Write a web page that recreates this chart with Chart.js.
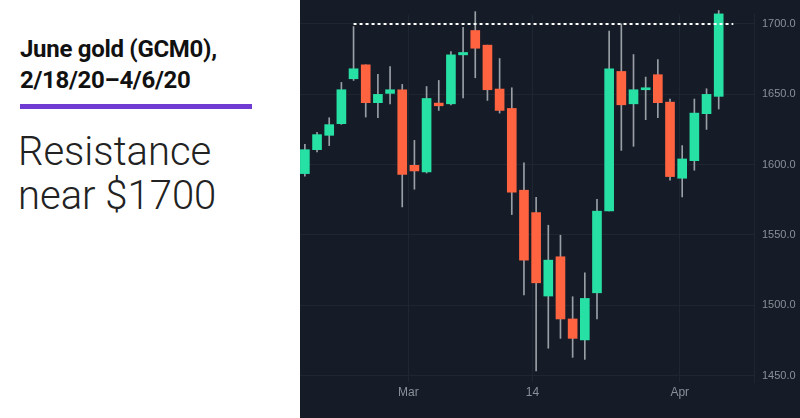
<!DOCTYPE html>
<html>
<head>
<meta charset="utf-8">
<script src="https://cdn.jsdelivr.net/npm/chart.js@4"></script>
<style>
  body { margin: 0; width: 800px; height: 418px; background: #fff; font-family: Roboto, "Open Sans", sans-serif; position: relative; overflow: hidden; }
  #left { position: absolute; left: 0; top: 0; width: 300px; height: 418px; }
  h1 { position: absolute; left: 20px; top: 34px; margin: 0; font-size: 24px; line-height: 31px; font-weight: 700; color: #111; letter-spacing: -0.3px; }
  .bar { position: absolute; left: 20px; top: 104px; width: 232px; height: 5px; background: #6f3bd3; }
  .sub { position: absolute; left: 18px; top: 130px; margin: 0; font-size: 40px; line-height: 44px; font-weight: 300; color: #222; }
  #wrap { position: absolute; left: 300px; top: 0; width: 500px; height: 418px; background: #151c27; }
</style>
</head>
<body>
<div id="left">
  <h1>June gold (GCM0),<br>2/18/20–4/6/20</h1>
  <div class="bar"></div>
  <p class="sub">Resistance<br>near $1700</p>
</div>
<div id="wrap"><canvas id="c"></canvas></div>
<script>
const opens  = [1593.6,1610.6,1620.8,1629.1,1661.0,1670.9,1644.0,1650.6,1653.2,1599.5,1594.8,1643.7,1643.2,1678.0,1695.3,1684.9,1653.7,1639.9,1581.8,1565.9,1506.6,1534.5,1490.3,1475.4,1508.9,1567.1,1666.2,1643.2,1653.2,1663.9,1644.4,1590.3,1602.8,1636.2,1648.5];
const closes = [1610.6,1621.3,1628.4,1653.2,1668.1,1644.0,1649.9,1653.2,1593.1,1595.5,1647.0,1641.8,1678.0,1679.7,1682.7,1653.2,1638.5,1580.4,1532.1,1516.0,1532.1,1490.3,1476.5,1504.9,1566.9,1668.1,1642.5,1653.2,1654.6,1644.0,1591.5,1604.0,1636.6,1649.9,1707.1];
const highs  = [1614.4,1622.9,1633.3,1658.4,1698.1,1670.9,1664.1,1669.7,1657.0,1617.2,1655.5,1659.8,1680.4,1697.6,1708.7,1684.9,1675.4,1654.6,1601.2,1576.8,1556.9,1549.8,1506.1,1523.1,1575.4,1694.8,1700.0,1678.2,1662.2,1674.7,1646.6,1613.5,1646.6,1653.9,1709.5];
const lows   = [1591.7,1609.0,1613.5,1628.6,1659.8,1633.8,1633.3,1643.2,1569.9,1582.5,1594.0,1638.5,1642.5,1647.3,1661.7,1645.6,1636.6,1564.5,1507.3,1453.4,1469.5,1476.5,1463.0,1461.6,1490.3,1567.0,1610.1,1613.0,1631.9,1633.3,1588.9,1577.0,1596.0,1625.0,1639.5];
const xTicks = [{ pos: 8.5, label: 'Mar' }, { pos: 18.7, label: '14' }, { pos: 30.8, label: 'Apr' }];
const resistance = 1700;

const up = '#26e0a4', down = '#ff6340';
const colors = opens.map((o, i) => closes[i] >= o ? up : down);
const bodies = opens.map((o, i) => ({ x: i, y: [o, closes[i]] }));
const wicks = opens.map((o, i) => ({ x: i, y: [lows[i], highs[i]] }));

new Chart(document.getElementById('c'), {
  type: 'bar',
  data: {
    datasets: [
      { type: 'line', data: [{ x: 4, y: resistance }, { x: 35.2, y: resistance }], borderColor: '#ffffff', borderWidth: 2, borderDash: [3, 3], pointRadius: 0, order: 0 },
      { data: bodies, backgroundColor: colors, borderColor: colors, barThickness: 9, grouped: false, clip: false, order: 1 },
      { data: wicks, backgroundColor: '#9a9fa6', barThickness: 1, grouped: false, clip: false, order: 2 }
    ]
  },
  options: {
    responsive: true,
    maintainAspectRatio: false,
    animation: false,
    layout: { padding: 0 },
    plugins: { legend: { display: false }, tooltip: { enabled: false } },
    scales: {
      x: {
        type: 'linear', min: -0.4, max: 36.9, offset: false,
        afterBuildTicks: s => { s.ticks = xTicks.map(t => ({ value: t.pos })); },
        afterFit: s => { s.height = 36; },
        ticks: { color: '#8a9099', font: { size: 12 }, callback: v => (xTicks.find(t => t.pos === v) || {}).label },
        grid: { color: '#1e2632', drawTicks: false, offset: false },
        border: { display: false }
      },
      y: {
        position: 'right', min: 1445.5, max: 1706.6,
        afterBuildTicks: s => { s.ticks = [1450, 1500, 1550, 1600, 1650, 1700].map(v => ({ value: v })); },
        afterFit: s => { s.width = 46; },
        ticks: { color: '#8a9099', font: { size: 11 }, padding: 8, callback: v => v.toFixed(1) },
        grid: { color: '#1e2632', drawTicks: false },
        border: { color: '#1e2632' }
      }
    }
  }
});
</script>
</body>
</html>
